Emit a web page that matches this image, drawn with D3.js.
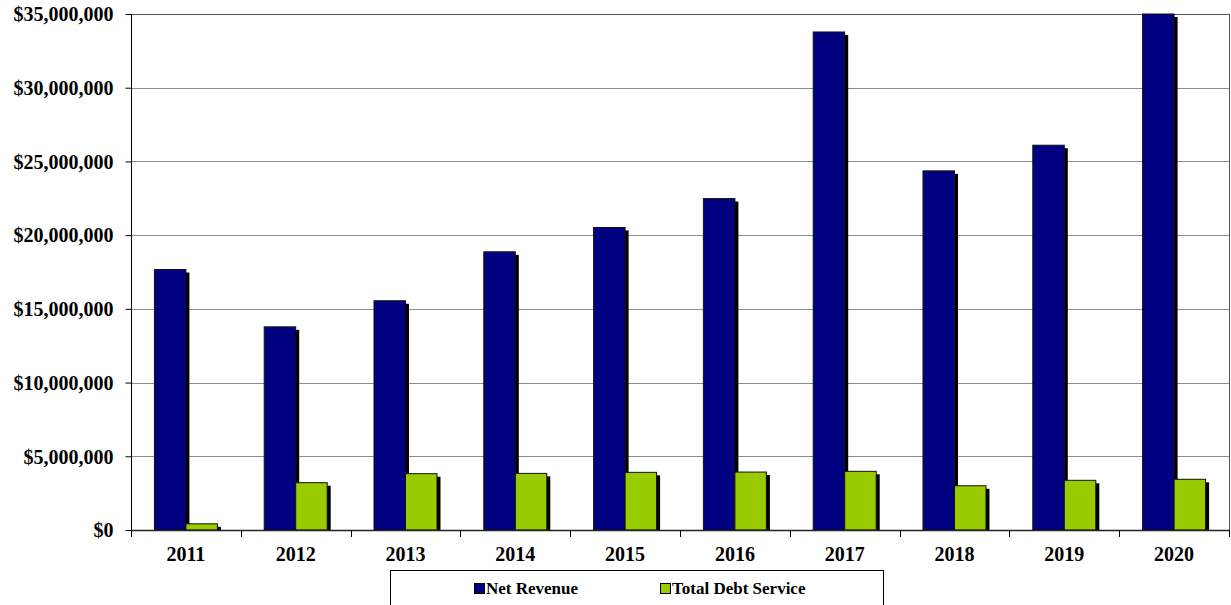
<!DOCTYPE html>
<html>
<head>
<meta charset="utf-8">
<script src="https://cdn.jsdelivr.net/npm/d3@7"></script>
<style>
  html, body { margin: 0; padding: 0; background: #fff; }
  svg { display: block; }
  text { font-family: "Liberation Serif", "Times New Roman", serif; font-weight: bold; fill: #000; }
</style>
</head>
<body>
<svg id="chart" width="1231" height="605"></svg>
<script>
// Fiscal years and the two series plotted per year
const years = ["2011", "2012", "2013", "2014", "2015", "2016", "2017", "2018", "2019", "2020"];
const netRevenue = [17670000, 13780000, 15550000, 18870000, 20520000, 22480000, 33780000, 24360000, 26100000, 35000000];
const totalDebtService = [420000, 3210000, 3820000, 3840000, 3910000, 3930000, 3980000, 3000000, 3370000, 3440000];
const seriesNames = ["Net Revenue", "Total Debt Service"];
const seriesColors = ["#000080", "#99CC00"];
const yTicks = [0, 5000000, 10000000, 15000000, 20000000, 25000000, 30000000, 35000000];

const svg = d3.select("#chart");
const plot = { left: 131, right: 1229, top: 14, bottom: 530 };

const x0 = d3.scaleBand().domain(years).range([plot.left, plot.right]).paddingInner(0).paddingOuter(0);
const x1 = d3.scaleBand().domain(seriesNames).range([0, x0.bandwidth()]).paddingInner(0).paddingOuter(0.743);
const y = d3.scaleLinear().domain([0, 35000000]).range([plot.bottom, plot.top]);
const color = d3.scaleOrdinal().domain(seriesNames).range(seriesColors);

const fmt = v => "$" + d3.format(",")(v);

// Horizontal gridlines
svg.append("g")
  .selectAll("line")
  .data(yTicks.filter(t => t > 0))
  .join("line")
  .attr("x1", plot.left).attr("x2", plot.right)
  .attr("y1", d => Math.round(y(d)) + 0.5).attr("y2", d => Math.round(y(d)) + 0.5)
  .attr("stroke", d => d === 35000000 ? "#555" : "#8c8c8c")
  .attr("stroke-width", 1);

// Right border of the plot area
svg.append("line")
  .attr("x1", plot.right + 0.5).attr("x2", plot.right + 0.5)
  .attr("y1", plot.top).attr("y2", plot.bottom)
  .attr("stroke", "#555");

// Bar data
const rows = years.map((yr, i) => ({
  year: yr,
  values: [
    { key: seriesNames[0], value: netRevenue[i] },
    { key: seriesNames[1], value: totalDebtService[i] }
  ]
}));

const groups = svg.append("g")
  .selectAll("g")
  .data(rows)
  .join("g")
  .attr("transform", d => `translate(${x0(d.year)},0)`);

// Drop shadows
groups.selectAll("rect.shadow")
  .data(d => d.values)
  .join("rect")
  .attr("class", "shadow")
  .attr("x", d => x1(d.key) + 3.5)
  .attr("y", d => y(d.value) + 3)
  .attr("width", x1.bandwidth())
  .attr("height", d => Math.max(0, y(0) - y(d.value) - 3))
  .attr("fill", "#000");

// Bars
groups.selectAll("rect.bar")
  .data(d => d.values)
  .join("rect")
  .attr("class", "bar")
  .attr("x", d => x1(d.key))
  .attr("y", d => y(d.value))
  .attr("width", x1.bandwidth())
  .attr("height", d => y(0) - y(d.value))
  .attr("fill", d => color(d.key))
  .attr("stroke", "#111")
  .attr("stroke-width", 1);

// Y axis
const yAxis = d3.axisLeft(y).tickValues(yTicks).tickFormat(fmt).tickSize(6).tickPadding(12);
const gy = svg.append("g").attr("transform", `translate(${plot.left + 0.5},0)`).call(yAxis);
gy.select(".domain").attr("stroke", "#000").attr("d", `M0,${plot.top}V${plot.bottom + 7}`);
gy.selectAll(".tick line").attr("stroke", "#000");
gy.selectAll(".tick text")
  .attr("font-size", 20)
  .attr("font-family", "Liberation Serif, Times New Roman, serif")
  .attr("font-weight", "bold")
  .attr("dy", "0.34em");

// X axis: baseline plus ticks at category boundaries
svg.append("line")
  .attr("x1", plot.left).attr("x2", plot.right + 1)
  .attr("y1", plot.bottom + 0.5).attr("y2", plot.bottom + 0.5)
  .attr("stroke", "#222").attr("stroke-width", 1.5);

const boundaries = years.map(yr => x0(yr)).concat([plot.right]);
svg.append("g")
  .selectAll("line")
  .data(boundaries)
  .join("line")
  .attr("x1", d => Math.round(d) + 0.5).attr("x2", d => Math.round(d) + 0.5)
  .attr("y1", plot.bottom).attr("y2", plot.bottom + 7)
  .attr("stroke", "#000");

svg.append("g")
  .selectAll("text")
  .data(years)
  .join("text")
  .attr("x", d => x0(d) + x0.bandwidth() / 2)
  .attr("y", 561)
  .attr("text-anchor", "middle")
  .attr("font-size", 20)
  .text(d => d);

// Legend
const legend = svg.append("g");
legend.append("rect")
  .attr("x", 390.5).attr("y", 570.5)
  .attr("width", 493).attr("height", 60)
  .attr("fill", "#fff").attr("stroke", "#000").attr("stroke-width", 1);

const legendItems = [
  { name: seriesNames[0], x: 474 },
  { name: seriesNames[1], x: 660 }
];
legendItems.forEach(item => {
  legend.append("rect")
    .attr("x", item.x + 0.5).attr("y", 583.5)
    .attr("width", 10).attr("height", 10)
    .attr("fill", color(item.name))
    .attr("stroke", "#000").attr("stroke-width", 1);
  legend.append("text")
    .attr("x", item.x + 12).attr("y", 594)
    .attr("font-size", 17)
    .text(item.name);
});
</script>
</body>
</html>
